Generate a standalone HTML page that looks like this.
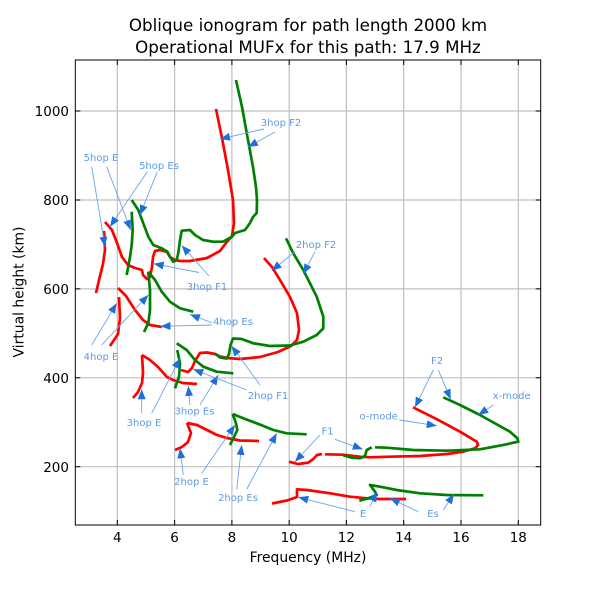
<!DOCTYPE html>
<html><head><meta charset="utf-8"><style>
html,body{margin:0;padding:0;background:#fff;}
svg{display:block;}
text{font-family:"DejaVu Sans","Liberation Sans",sans-serif;}
</style></head><body>
<svg width="600" height="600" viewBox="0 0 600 600" xmlns="http://www.w3.org/2000/svg">
<defs>
<marker id="ah" markerUnits="userSpaceOnUse" markerWidth="10" markerHeight="8" refX="10" refY="4" orient="auto">
<path d="M0,0 L10,4 L0,8 z" fill="#1f6fd8"/>
</marker>
<clipPath id="pc"><rect x="75.3" y="60" width="465.4" height="465"/></clipPath>
</defs>
<rect width="600" height="600" fill="#fff"/>
<!-- title -->
<text x="308" y="31" font-size="16.7" text-anchor="middle" fill="#000">Oblique ionogram for path length 2000 km</text>
<text x="308" y="53" font-size="16.7" text-anchor="middle" fill="#000">Operational MUFx for this path: 17.9 MHz</text>
<!-- grid -->
<g stroke="#bfbfbf" stroke-width="1.2">
<line x1="117.3" y1="60" x2="117.3" y2="525"/>
<line x1="174.6" y1="60" x2="174.6" y2="525"/>
<line x1="231.9" y1="60" x2="231.9" y2="525"/>
<line x1="289.2" y1="60" x2="289.2" y2="525"/>
<line x1="346.4" y1="60" x2="346.4" y2="525"/>
<line x1="403.7" y1="60" x2="403.7" y2="525"/>
<line x1="461" y1="60" x2="461" y2="525"/>
<line x1="518.3" y1="60" x2="518.3" y2="525"/>
<line x1="75.3" y1="111" x2="540.7" y2="111"/>
<line x1="75.3" y1="200" x2="540.7" y2="200"/>
<line x1="75.3" y1="288.9" x2="540.7" y2="288.9"/>
<line x1="75.3" y1="377.8" x2="540.7" y2="377.8"/>
<line x1="75.3" y1="466.7" x2="540.7" y2="466.7"/>
</g>
<!-- ticks -->
<g stroke="#000" stroke-width="1">
<path d="M117.3,525v-5M174.6,525v-5M231.9,525v-5M289.2,525v-5M346.4,525v-5M403.7,525v-5M461,525v-5M518.3,525v-5"/>
<path d="M117.3,60v5M174.6,60v5M231.9,60v5M289.2,60v5M346.4,60v5M403.7,60v5M461,60v5M518.3,60v5"/>
<path d="M75.3,111h5M75.3,200h5M75.3,288.9h5M75.3,377.8h5M75.3,466.7h5"/>
<path d="M540.7,111h-5M540.7,200h-5M540.7,288.9h-5M540.7,377.8h-5M540.7,466.7h-5"/>
</g>
<!-- curves -->
<g clip-path="url(#pc)" fill="none" stroke-width="2.7" stroke-linejoin="round" stroke-linecap="butt">
<g stroke="#ff0000">
<path d="M216,109 L222,138 L228,170 L233,200 L234,223 L232,236 L226,243 L220,251 L207,258 L190,261 L180,261 L175,260 L170,257 L167,252 L160,250 L155,251 L153,257 L152,267 L150,277 L147,279 L143,275 L142,270 L135,268 L128,265 L122,257 L117,243 L112,230 L105,222"/>
<path d="M104,231 L105,250 L103,264 L100,276 L96,293"/>
<path d="M119,297 L120,318 L118,334 L110,346"/>
<path d="M118,288 L126,296 L135,310 L143,320 L150,325 L162,327"/>
<path d="M142,355 L143,373 L142,383 L138,392 L133,398"/>
<path d="M142,355 L150,360 L158,367 L167,377 L173,380 L183,383 L197,384"/>
<path d="M181,370 L188,372 L192,368 L195,361 L200,353 L207,352.5 L215,354 L220,356.5 L227,358 L240,359 L260,357 L278,352 L291,346 L297,340 L299,330 L297,313 L290,297 L280,280 L272,267 L264,258"/>
<path d="M175,450 L182,447 L188,442 L191,433 L187,423"/>
<path d="M187,423 L197,425 L207,430 L217,435 L227,438 L240,440.5 L259,441"/>
<path d="M272,503.5 L287,500.5 L297,497 L297,489.3 L307,490 L330,493.3 L350,496.7 L367,498.3 L380,499 L406,499"/>
<path d="M289,461.7 L298,464 L308,462.7 L313,459.3 L317,455 L322,454"/>
<path d="M325,454.3 L343,454.7 L360,456.7 L370,457.3 L390,456.7 L420,456 L447,454 L463,451.7 L475,448.3 L478,445 L476.7,441.7 L460,431.7 L437,419.3 L413,407.3"/>
</g>
<g stroke="#008000">
<path d="M236,80 L242,107 L248,140 L253,167 L256,187 L257,200 L256.7,213 L253,217 L250,223 L245,230 L235,233 L231.7,237 L223,241.7 L213,241.7 L203,240 L195,235 L190,230 L181.7,230.7 L180,240 L178.3,253 L176.7,260 L173.3,261.7 L170,256.7 L167.3,251.7 L161.7,248.3 L153.3,245 L148.3,236.7 L143.3,223.3 L138.3,210 L131.7,200"/>
<path d="M131.7,211.7 L132.7,230 L131.7,245 L130,257 L126.7,275"/>
<path d="M148.3,271.7 L150,290 L150,310 L148.3,323 L144,332"/>
<path d="M148.3,271.7 L155,280 L161.7,291.7 L170,301.7 L180,308.3 L193.3,311.7"/>
<path d="M177.3,350 L180,363.3 L179,376.7 L175,388.3"/>
<path d="M176.7,343.3 L186.7,350 L195,360 L203.3,366.7 L216.7,371.7 L233.3,373.3"/>
<path d="M215,353.5 L220,357.5 L226.7,358.5 L229,354 L230.5,345 L233,338.5 L241.7,339 L253.3,343.3 L270,346 L290,345.5 L303.3,341.7 L316.7,335 L323.3,328.3 L323.3,316.7 L316.7,296.7 L303.3,270 L293.3,253.3 L286,238.3"/>
<path d="M232.7,414 L236,423.3 L237.3,430 L233.3,438.3 L230,445"/>
<path d="M232.7,414 L243.3,418.3 L256.7,423.3 L273.3,430 L286.7,433.3 L306.7,434.3"/>
<path d="M343.3,455.3 L351.7,457.7 L360,458.3 L365,456 L366.7,450 L371.7,447.3"/>
<path d="M375,447.3 L386.7,447.7 L413.3,450 L446.7,450.7 L480,449.3 L506.7,444.3 L513.3,442.7 L518.3,441.7 L517.3,438.3 L510,431.7 L480,415 L460,405 L443.3,397.3"/>
<path d="M359.3,500.7 L368.3,498.3 L376.7,495 L375,491.7 L370,485 L380,486.7 L396.7,490 L420,493.3 L446.7,495 L483.3,495.3"/>
</g>
</g>
<!-- frame -->
<rect x="75.3" y="60" width="465.4" height="465" fill="none" stroke="#000" stroke-width="1"/>
<!-- tick labels -->
<g font-size="13.5" fill="#000" text-anchor="middle">
<text x="117.3" y="542">4</text>
<text x="174.6" y="542">6</text>
<text x="231.9" y="542">8</text>
<text x="289.2" y="542">10</text>
<text x="346.4" y="542">12</text>
<text x="403.7" y="542">14</text>
<text x="461" y="542">16</text>
<text x="518.3" y="542">18</text>
</g>
<g font-size="13.5" fill="#000" text-anchor="end">
<text x="69" y="116">1000</text>
<text x="69" y="205">800</text>
<text x="69" y="294">600</text>
<text x="69" y="383">400</text>
<text x="69" y="472">200</text>
</g>
<text x="308" y="562" font-size="13.9" text-anchor="middle" fill="#000">Frequency (MHz)</text>
<text transform="translate(23.5,292) rotate(-90)" font-size="13.9" text-anchor="middle" fill="#000">Virtual height (km)</text>
<!-- annotation arrows -->
<g stroke="#6aa4ea" stroke-width="0.9" fill="none" marker-end="url(#ah)">
<line x1="264" y1="129" x2="220" y2="139"/>
<line x1="275" y1="132" x2="248" y2="147"/>
<line x1="91.7" y1="166.7" x2="105" y2="246.7"/>
<line x1="106.7" y1="166.7" x2="130.7" y2="230"/>
<line x1="147.3" y1="171.7" x2="110" y2="226.7"/>
<line x1="157.3" y1="171.7" x2="140" y2="215"/>
<line x1="209" y1="276" x2="181.7" y2="245.5"/>
<line x1="199" y1="272.5" x2="153.7" y2="263.7"/>
<line x1="211.7" y1="322.7" x2="190" y2="314.5"/>
<line x1="211.7" y1="325" x2="160.5" y2="326.3"/>
<line x1="91.7" y1="345" x2="116.7" y2="303.3"/>
<line x1="101.7" y1="345" x2="148.3" y2="295"/>
<line x1="141.7" y1="413.3" x2="141.7" y2="389.3"/>
<line x1="151.7" y1="413.3" x2="180" y2="358.3"/>
<line x1="190" y1="405" x2="188.3" y2="386"/>
<line x1="200" y1="405" x2="218.3" y2="375"/>
<line x1="246.7" y1="390" x2="193.3" y2="369.3"/>
<line x1="260" y1="385" x2="231.7" y2="346"/>
<line x1="295" y1="251.7" x2="271.7" y2="270.7"/>
<line x1="315" y1="251.7" x2="303.3" y2="274"/>
<line x1="183.3" y1="475" x2="180" y2="448.3"/>
<line x1="201.7" y1="473.3" x2="235" y2="425"/>
<line x1="236.7" y1="489.3" x2="241.7" y2="445"/>
<line x1="246.7" y1="489.3" x2="276.7" y2="433.3"/>
<line x1="320" y1="435" x2="295" y2="461.7"/>
<line x1="335" y1="439.3" x2="362.7" y2="449.3"/>
<line x1="433.3" y1="370" x2="415" y2="407.3"/>
<line x1="438.3" y1="370" x2="450.7" y2="399.3"/>
<line x1="399.3" y1="420" x2="436.7" y2="425.7"/>
<line x1="493.3" y1="405" x2="478.3" y2="415"/>
<line x1="355" y1="511.7" x2="298.3" y2="497.3"/>
<line x1="370" y1="506.7" x2="376.7" y2="491.7"/>
<line x1="418.3" y1="511.7" x2="390" y2="498.3"/>
<line x1="443.3" y1="510" x2="454" y2="494"/>
</g>
<!-- annotation labels -->
<g font-size="10" fill="#5b9ae8" text-anchor="middle">
<text x="281" y="126">3hop F2</text>
<text x="101" y="161">5hop E</text>
<text x="159" y="169">5hop Es</text>
<text x="207" y="290">3hop F1</text>
<text x="233" y="325">4hop Es</text>
<text x="101" y="360">4hop E</text>
<text x="144" y="426">3hop E</text>
<text x="194.5" y="414.5">3hop Es</text>
<text x="268" y="399">2hop F1</text>
<text x="316" y="248">2hop F2</text>
<text x="191.5" y="485">2hop E</text>
<text x="238" y="501">2hop Es</text>
<text x="327.5" y="434.5">F1</text>
<text x="437" y="364">F2</text>
<text x="378.7" y="419.3">o-mode</text>
<text x="511.7" y="399">x-mode</text>
<text x="363" y="517">E</text>
<text x="433" y="517">Es</text>
</g>
</svg>
</body></html>
